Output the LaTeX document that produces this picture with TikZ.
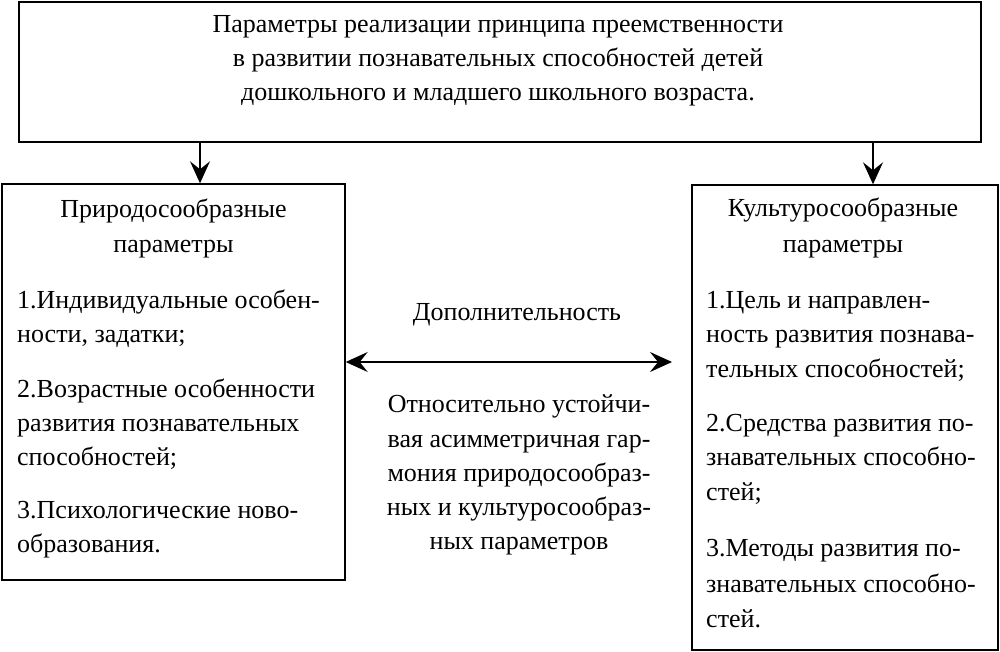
\documentclass[tikz,border=0pt]{standalone}
\usepackage{fontspec}
\setmainfont{Liberation Serif}
\usetikzlibrary{arrows.meta}
\begin{document}
\begin{tikzpicture}[x=1pt,y=-1pt,
  box/.style={draw, line width=1.4pt, rectangle, inner sep=0pt},
  ln/.style={inner sep=0pt, anchor=base west, font=\fontsize{26}{34}\selectfont},
  lc/.style={inner sep=0pt, anchor=base, font=\fontsize{26}{34}\selectfont},
  arr/.style={line width=1.4pt, -{Stealth[length=22pt, width=20pt, inset=8pt]}},
  darr/.style={line width=1.4pt, {Stealth[length=22pt, width=20pt, inset=8pt]}-{Stealth[length=22pt, width=20pt, inset=8pt]}}]
\useasboundingbox (0,0) rectangle (1000,652);
% boxes
\node[box, minimum width=962pt, minimum height=140pt] (top) at (500,72) {};
\node[box, minimum width=343pt, minimum height=396pt] (lb) at (173.5,382) {};
\node[box, minimum width=306pt, minimum height=465pt] (rb) at (845,417.5) {};
% top text
\node[lc] (t1) at (498,33) {Параметры реализации принципа преемственности};
\node[lc] (t2) at (498,67) {в развитии познавательных способностей детей};
\node[lc] (t3) at (498,101) {дошкольного и младшего школьного возраста.};
% left text
\node[lc] (l0) at (173.5,218) {Природосообразные};
\node[lc] (l1) at (173.5,252) {параметры};
\node[ln] (l2) at (17,308) {1.Индивидуальные особен-};
\node[ln] (l3) at (17,342) {ности, задатки;};
\node[ln] (l4) at (17,397) {2.Возрастные особенности};
\node[ln] (l5) at (17,431) {развития познавательных};
\node[ln] (l6) at (17,465) {способностей;};
\node[ln] (l7) at (17,518) {3.Психологические ново-};
\node[ln] (l8) at (17,552) {образования.};
% right text
\node[lc] (r0) at (843,217) {Культуросообразные};
\node[lc] (r1) at (843,252) {параметры};
\node[ln] (r2) at (706,308) {1.Цель и направлен-};
\node[ln] (r3) at (706,342) {ность развития познава-};
\node[ln] (r4) at (706,377) {тельных способностей;};
\node[ln] (r5) at (706,431) {2.Средства развития по-};
\node[ln] (r6) at (706,465) {знавательных способно-};
\node[ln] (r7) at (706,500) {стей;};
\node[ln] (r8) at (706,556) {3.Методы развития по-};
\node[ln] (r9) at (706,592) {знавательных способно-};
\node[ln] (r10) at (706,627) {стей.};
% middle text
\node[lc] (m0) at (517,320) {Дополнительность};
\node[lc] (m1) at (519,412) {Относительно устойчи-};
\node[lc] (m2) at (519,447) {вая асимметричная гар-};
\node[lc] (m3) at (519,481) {мония природосообраз-};
\node[lc] (m4) at (519,515) {ных и культуросообраз-};
\node[lc] (m5) at (519,549) {ных параметров};
% connectors
\coordinate (c1) at (200,0);
\coordinate (c2) at (873,0);
\coordinate (dr) at (672,362);
\draw[arr] (c1 |- top.south) -- (c1 |- lb.north);
\draw[arr] (c2 |- top.south) -- (c2 |- rb.north);
\draw[darr] (lb.east |- dr) -- (dr);
\end{tikzpicture}
\end{document}
